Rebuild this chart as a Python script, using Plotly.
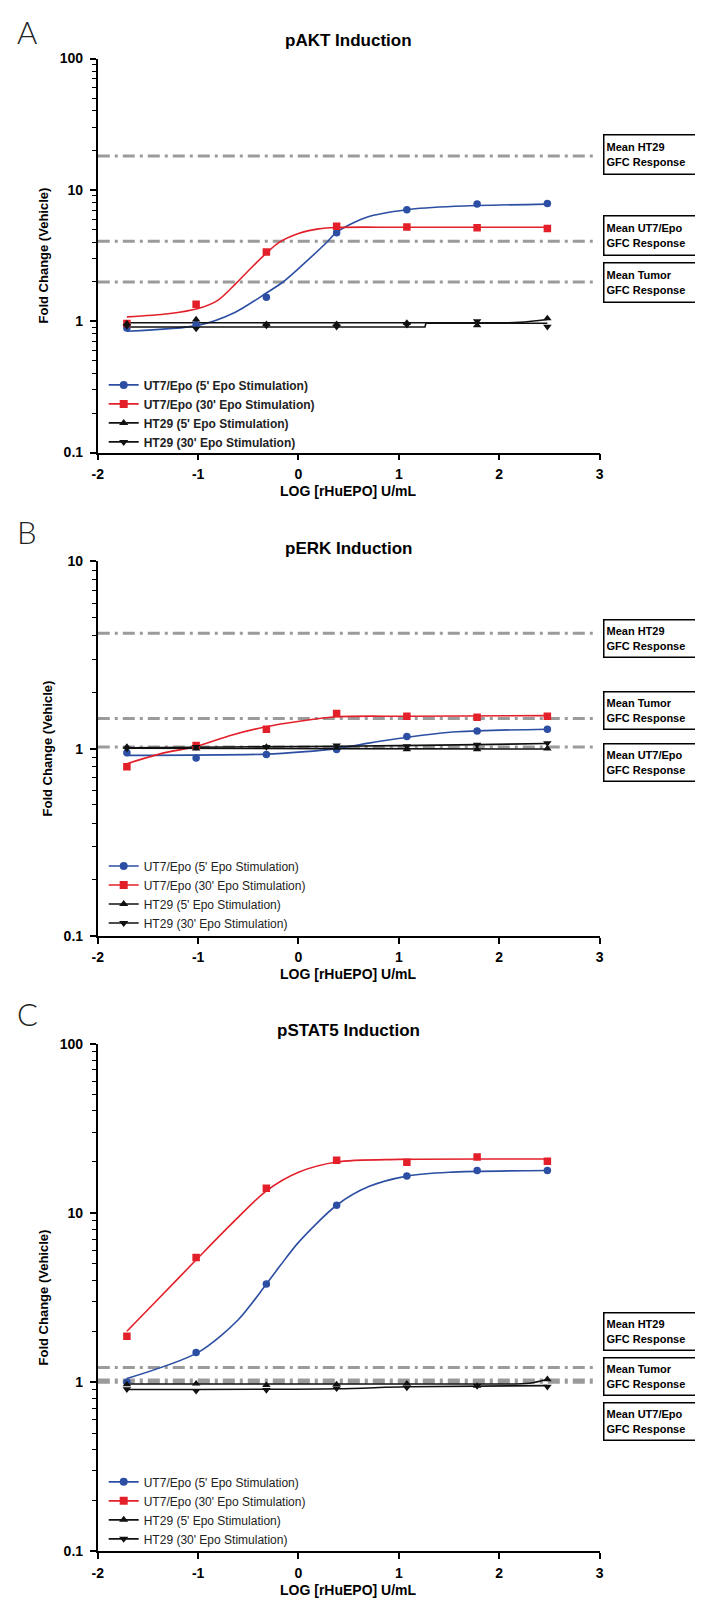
import plotly.graph_objects as go

# ---------------- data ----------------
x_log = [-1.71, -1.02, -0.32, 0.38, 1.08, 1.78, 2.48]
x_ticks = [-2, -1, 0, 1, 2, 3]
series_names = ["UT7/Epo (5' Epo Stimulation)", "UT7/Epo (30' Epo Stimulation)",
                "HT29 (5' Epo Stimulation)", "HT29 (30' Epo Stimulation)"]
panel_titles = ["pAKT Induction", "pERK Induction", "pSTAT5 Induction"]
panel_letters = ["A", "B", "C"]
x_title = "LOG [rHuEPO] U/mL"
y_title = "Fold Change (Vehicle)"

# Panel A (pAKT)
a_ut7_5 = [0.89, 0.94, 1.52, 4.71, 7.07, 7.8, 7.89]
a_ut7_30 = [0.96, 1.35, 3.37, 5.29, 5.23, 5.14, 5.08]
a_ht29_5 = [0.96, 1.03, 0.95, 0.95, 0.97, 0.93, 1.05]
a_ht29_30 = [0.92, 0.88, 0.93, 0.91, 0.94, 1.0, 0.91]
a_ut7_5_fit_x = [-1.71, -1.0, -0.64, -0.32, -0.155, 0.0, 0.29, 0.38, 0.68, 1.08, 1.56, 2.48]
a_ut7_5_fit_y = [0.84, 0.93, 1.16, 1.64, 1.99, 2.52, 4.05, 4.77, 6.2, 7.07, 7.5, 7.8]
a_ut7_30_fit_x = [-1.71, -1.3, -1.0, -0.8, -0.62, -0.46, -0.32, -0.2, 0.0, 0.2, 0.38, 1.0, 2.48]
a_ut7_30_fit_y = [1.08, 1.14, 1.25, 1.45, 1.95, 2.6, 3.3, 3.95, 4.65, 5.05, 5.18, 5.2, 5.2]
a_ht29_5_fit_x = [-1.71, 1.08, 2.2, 2.48]
a_ht29_5_fit_y = [0.975, 0.975, 0.98, 1.03]
a_ht29_30_fit_x = [-1.71, 1.26, 1.27, 2.48]
a_ht29_30_fit_y = [0.905, 0.905, 0.965, 0.965]
a_ref_values = [18.1, 4.06, 1.99]
a_ref_labels = ["Mean HT29<br>GFC Response", "Mean UT7/Epo<br>GFC Response", "Mean Tumor<br>GFC Response"]

# Panel B (pERK)
b_ut7_5 = [0.95, 0.89, 0.93, 0.99, 1.16, 1.24, 1.27]
b_ut7_30 = [0.80, 1.04, 1.27, 1.54, 1.49, 1.47, 1.49]
b_ht29_5 = [1.02, 1.0, 1.02, 1.01, 0.99, 0.99, 1.0]
b_ht29_30 = [1.0, 1.02, 1.02, 1.04, 1.03, 1.05, 1.07]
b_ut7_5_fit_x = [-1.71, -0.32, 0.035, 0.38, 0.70, 1.08, 1.58, 2.48]
b_ut7_5_fit_y = [0.92, 0.934, 0.96, 1.0, 1.07, 1.15, 1.23, 1.27]
b_ut7_30_fit_x = [-1.71, -1.37, -1.01, -0.67, -0.32, 0.01, 0.38, 1.08, 2.48]
b_ut7_30_fit_y = [0.83, 0.94, 1.03, 1.18, 1.31, 1.40, 1.48, 1.49, 1.50]
b_ht29_5_fit_x = [-1.71, 0.38, 2.48]
b_ht29_5_fit_y = [1.005, 1.0, 0.995]
b_ht29_30_fit_x = [-1.71, 0.38, 1.78, 2.48]
b_ht29_30_fit_y = [1.01, 1.03, 1.05, 1.065]
b_ref_values = [4.14, 1.45, 1.02]
b_ref_labels = ["Mean HT29<br>GFC Response", "Mean Tumor<br>GFC Response", "Mean UT7/Epo<br>GFC Response"]

# Panel C (pSTAT5)
c_ut7_5 = [1.0, 1.5, 3.8, 11.1, 16.5, 17.8, 17.8]
c_ut7_30 = [1.87, 5.45, 14.0, 20.5, 19.9, 21.4, 20.2]
c_ht29_5 = [0.97, 0.98, 0.96, 0.97, 0.98, 0.95, 1.04]
c_ht29_30 = [0.91, 0.89, 0.90, 0.92, 0.93, 0.95, 0.94]
c_ut7_5_fit_x = [-1.71, -1.0, -0.6, -0.32, -0.18, 0.0, 0.38, 0.7, 1.08, 1.5, 2.48]
c_ut7_5_fit_y = [1.05, 1.5, 2.34, 3.8, 4.9, 6.7, 11.1, 14.3, 16.5, 17.4, 17.8]
c_ut7_30_fit_x = [-1.71, -1.4, -1.0, -0.66, -0.32, 0.0, 0.38, 1.0, 2.48]
c_ut7_30_fit_y = [2.0, 3.09, 5.43, 8.7, 13.5, 17.4, 20.0, 20.7, 20.8]
c_ht29_5_fit_x = [-1.71, 1.78, 2.3, 2.48]
c_ht29_5_fit_y = [0.975, 0.975, 0.985, 1.04]
c_ht29_30_fit_x = [-1.71, 0.38, 1.08, 2.48]
c_ht29_30_fit_y = [0.905, 0.915, 0.94, 0.955]
c_ref_values = [1.22, 1.03, 1.0]
c_ref_labels = ["Mean HT29<br>GFC Response", "Mean Tumor<br>GFC Response", "Mean UT7/Epo<br>GFC Response"]

# ---------------- styling ----------------
W, H = 703, 1600
BLUE = "#2d4fa3"
RED = "#e3202a"
BLACK = "#111111"
GRAY = "#9b9b9b"
FONT = "Liberation Sans, Arial, sans-serif"
colors = [BLUE, RED, BLACK, BLACK]
symbols = ["circle", "square", "triangle-up", "triangle-down"]


def px_x(p):
    return p / W


def px_y(p):
    return 1 - p / H


x_dom = [px_x(85), px_x(594)]
panels = [
    dict(top=43, bottom=441, rng=[-1, 2], tickvals=[0.1, 1, 10, 100], ticktext=["0.1", "1", "10", "100"],
         title_y=25, letter_y=16, xt_y=480, legend_y=358, bold_legend=True,
         boxes=[119, 201, 248], box_h=41,
         data=[a_ut7_5, a_ut7_30, a_ht29_5, a_ht29_30],
         fits=[(a_ut7_5_fit_x, a_ut7_5_fit_y, "spline"), (a_ut7_30_fit_x, a_ut7_30_fit_y, "spline"),
               (a_ht29_5_fit_x, a_ht29_5_fit_y, "spline"), (a_ht29_30_fit_x, a_ht29_30_fit_y, "linear")],
         refs=a_ref_values, labels=a_ref_labels),
    dict(top=551, bottom=929, rng=[-1, 1], tickvals=[0.1, 1, 10], ticktext=["0.1", "1", "10"],
         title_y=538, letter_y=521, xt_y=968, legend_y=844, bold_legend=False,
         boxes=[609, 682, 734], box_h=39,
         data=[b_ut7_5, b_ut7_30, b_ht29_5, b_ht29_30],
         fits=[(b_ut7_5_fit_x, b_ut7_5_fit_y, "spline"), (b_ut7_30_fit_x, b_ut7_30_fit_y, "spline"),
               (b_ht29_5_fit_x, b_ht29_5_fit_y, "spline"), (b_ht29_30_fit_x, b_ht29_30_fit_y, "spline")],
         refs=b_ref_values, labels=b_ref_labels),
    dict(top=1038, bottom=1551, rng=[-1, 2], tickvals=[0.1, 1, 10, 100], ticktext=["0.1", "1", "10", "100"],
         title_y=1025, letter_y=1008, xt_y=1590, legend_y=1466, bold_legend=False,
         boxes=[1309, 1355, 1400], box_h=39,
         data=[c_ut7_5, c_ut7_30, c_ht29_5, c_ht29_30],
         fits=[(c_ut7_5_fit_x, c_ut7_5_fit_y, "spline"), (c_ut7_30_fit_x, c_ut7_30_fit_y, "spline"),
               (c_ht29_5_fit_x, c_ht29_5_fit_y, "spline"), (c_ht29_30_fit_x, c_ht29_30_fit_y, "spline")],
         refs=c_ref_values, labels=c_ref_labels),
]

minor_vals = [m * 10 ** e for e in (-1, 0, 1) for m in range(2, 10)]

fig = go.Figure()
annotations = []
shapes = []
layout = {}

for i, p in enumerate(panels):
    k = "" if i == 0 else str(i + 1)
    xa, ya = "x" + k, "y" + k
    leg = "legend" + k
    for j, (fx, fy, shp) in enumerate(p["fits"]):
        fig.add_trace(go.Scatter(x=fx, y=fy, mode="lines",
                                 line=dict(color=colors[j], width=1.6, shape=shp, smoothing=0.8),
                                 xaxis=xa, yaxis=ya, showlegend=False, hoverinfo="skip"))
    for j, vals in enumerate(p["data"]):
        fig.add_trace(go.Scatter(x=x_log, y=vals, mode="markers",
                                 marker=dict(color=colors[j], symbol=symbols[j], size=7.5),
                                 xaxis=xa, yaxis=ya, showlegend=False, name=series_names[j]))
    for j, nm in enumerate(series_names):
        fig.add_trace(go.Scatter(x=[None], y=[None], mode="lines+markers", name=nm,
                                 marker=dict(color=colors[j], symbol=symbols[j], size=8),
                                 line=dict(color=colors[j], width=1.6),
                                 xaxis=xa, yaxis=ya, legend=leg, showlegend=True))
    layout[leg] = dict(x=px_x(91), xanchor="left", y=px_y(p["legend_y"]), yanchor="top",
                       bgcolor="rgba(0,0,0,0)", borderwidth=0,
                       font=dict(family=FONT, size=12, color="#222",
                                 weight="bold" if p["bold_legend"] else "normal"),
                       tracegroupgap=0, itemwidth=30)
    layout["xaxis" + k] = dict(domain=x_dom, anchor=ya, range=[-2, 3], tickvals=x_ticks,
                               ticktext=[str(t) for t in x_ticks],
                               showline=True, linecolor="black", linewidth=1.8, ticks="outside",
                               ticklen=6, tickwidth=1.6, tickcolor="black", showgrid=False, zeroline=False,
                               ticklabelstandoff=2,
                               tickfont=dict(family=FONT, size=14, color="black", weight="bold"))
    layout["yaxis" + k] = dict(domain=[px_y(p["bottom"]), px_y(p["top"])], anchor=xa, type="log",
                               range=p["rng"], tickvals=p["tickvals"], ticktext=p["ticktext"],
                               showline=True, linecolor="black", linewidth=1.8, ticks="outside",
                               ticklen=6, tickwidth=1.6, tickcolor="black", showgrid=False, zeroline=False,
                               ticklabelstandoff=4,
                               minor=dict(tickvals=minor_vals, ticks="outside", ticklen=3.5, tickwidth=1.3,
                                          tickcolor="black", showgrid=False),
                               tickfont=dict(family=FONT, size=14, color="black", weight="bold"),
                               title=dict(text=y_title, standoff=8,
                                          font=dict(family=FONT, size=13, color="black", weight="bold")))
    for v in p["refs"]:
        shapes.append(dict(type="line", xref=xa, yref=ya, x0=-2, x1=2.94, y0=v, y1=v,
                           line=dict(color=GRAY, width=3, dash="12px,5px,3px,5px"), layer="below"))
    for top, lab in zip(p["boxes"], p["labels"]):
        annotations.append(dict(text=lab, xref="paper", yref="paper", x=px_x(598), xanchor="left",
                                y=px_y(top), yanchor="top", showarrow=False, align="left",
                                width=92, height=p["box_h"] - 7, borderpad=2, bordercolor="black",
                                borderwidth=1.5, valign="middle",
                                font=dict(family=FONT, size=11, color="black", weight="bold")))
    annotations.append(dict(text=panel_titles[i], xref="paper", yref="paper", x=(x_dom[0] + x_dom[1]) / 2,
                            y=px_y(p["title_y"]), xanchor="center", yanchor="middle", showarrow=False,
                            font=dict(family=FONT, size=17, color="black", weight="bold")))
    annotations.append(dict(text=x_title, xref="paper", yref="paper", x=(x_dom[0] + x_dom[1]) / 2,
                            y=px_y(p["xt_y"]), xanchor="center", yanchor="middle", showarrow=False,
                            font=dict(family=FONT, size=14, color="black", weight="bold")))
    annotations.append(dict(text=panel_letters[i], xref="paper", yref="paper", x=px_x(1), xanchor="left",
                            y=px_y(p["letter_y"]), yanchor="middle", showarrow=False,
                            font=dict(family="Lato, Liberation Sans, sans-serif", size=31, color="#222",
                                      weight=300)))

fig.update_layout(width=W, height=H, margin=dict(l=0, r=0, t=0, b=0), plot_bgcolor="white",
                  paper_bgcolor="white", annotations=annotations, shapes=shapes, **layout)

fig.write_html("out.html")
